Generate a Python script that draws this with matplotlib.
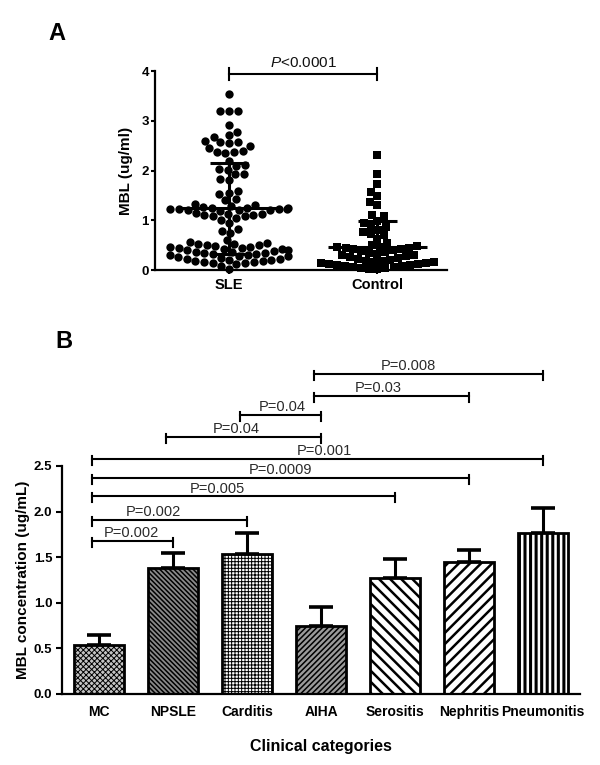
import warnings
warnings.filterwarnings("ignore")
import matplotlib
matplotlib.use("Agg")
import matplotlib.pyplot as plt
import numpy as np
import pandas as pd
import seaborn as sns

plt.rcParams["font.family"] = ["Liberation Sans", "DejaVu Sans"]
plt.rcParams["mathtext.fontset"] = "custom"
plt.rcParams["mathtext.rm"] = "Liberation Sans"
plt.rcParams["mathtext.it"] = "Liberation Sans:italic"

# ---------------- Panel A data ----------------
groups_a = ["SLE", "Control"]
sle_values = [3.53, 3.20, 3.20, 3.20, 2.92, 2.77, 2.72, 2.68, 2.60, 2.58, 2.57, 2.55,
              2.50, 2.45, 2.40, 2.38, 2.37, 2.35, 2.20, 2.12, 2.10, 2.03, 2.02, 1.93,
              1.92, 1.82, 1.80, 1.58, 1.55, 1.53, 1.42, 1.40,
              1.32, 1.30, 1.28, 1.27, 1.25, 1.25, 1.24, 1.23, 1.22, 1.22, 1.22, 1.21,
              1.20, 1.20, 1.18, 1.15, 1.13, 1.12, 1.10, 1.10, 1.08, 1.08, 1.05, 1.00,
              0.95, 0.82, 0.78, 0.75, 0.60, 0.57,
              0.54, 0.53, 0.52, 0.50, 0.50, 0.48, 0.47, 0.46, 0.45, 0.44, 0.42, 0.42,
              0.40, 0.40, 0.38, 0.37, 0.36, 0.35, 0.34, 0.33, 0.32, 0.30, 0.30, 0.29,
              0.28, 0.26, 0.25, 0.23, 0.22, 0.20, 0.20, 0.19, 0.18, 0.17, 0.16, 0.15,
              0.14, 0.12, 0.08, 0.03]
control_values = [2.32, 1.92, 1.72, 1.57, 1.48, 1.36, 1.30, 1.10, 1.08, 0.98, 0.95,
                  0.88, 0.86, 0.80, 0.76, 0.72, 0.70, 0.62, 0.55,
                  0.50, 0.48, 0.47, 0.46, 0.45, 0.44, 0.43, 0.42, 0.40, 0.38,
                  0.36, 0.34, 0.32, 0.30, 0.30, 0.28, 0.26, 0.24, 0.22, 0.20,
                  0.19, 0.18, 0.17, 0.16, 0.15, 0.14, 0.13, 0.12, 0.11, 0.10,
                  0.09, 0.08, 0.07, 0.06, 0.05, 0.04, 0.03, 0.02]
group_means = [1.24, 0.46]
group_sds = [0.92, 0.52]
a_yticks = [0, 1, 2, 3, 4]
a_pvalue = "$P$<0.0001"

# ---------------- Panel B data ----------------
categories = ["MC", "NPSLE", "Carditis", "AIHA", "Serositis", "Nephritis", "Pneumonitis"]
mean_mbl = [0.54, 1.38, 1.53, 0.75, 1.27, 1.45, 1.77]
sem_mbl = [0.11, 0.17, 0.24, 0.20, 0.21, 0.13, 0.27]
comp_left = ["MC", "MC", "MC", "MC", "MC", "NPSLE", "Carditis", "AIHA", "AIHA"]
comp_right = ["NPSLE", "Carditis", "Serositis", "Nephritis", "Pneumonitis",
              "AIHA", "AIHA", "Nephritis", "Pneumonitis"]
comp_labels = ["P=0.002", "P=0.002", "P=0.005", "P=0.0009", "P=0.001",
               "P=0.04", "P=0.04", "P=0.03", "P=0.008"]
b_yticks = [0.0, 0.5, 1.0, 1.5, 2.0, 2.5]

# ---------------- figure ----------------
W, H = 600, 765
fig = plt.figure(figsize=(W / 100, H / 100), dpi=100)
fig.patch.set_facecolor("white")

def fx(px):
    return px / W

def fy(py):
    return 1 - py / H

# ----- Panel A -----
axA = fig.add_axes([fx(155), fy(270), fx(447) - fx(155), fy(71) - fy(270)])
df_a = pd.DataFrame({"group": ["SLE"] * len(sle_values) + ["Control"] * len(control_values),
                     "value": sle_values + control_values})
sns.swarmplot(data=df_a[df_a.group == "SLE"], x="group", y="value", order=groups_a,
              color="black", marker="o", size=6, ax=axA, zorder=3, linewidth=0)
sns.swarmplot(data=df_a[df_a.group == "Control"], x="group", y="value", order=groups_a,
              color="black", marker="s", size=5.6, ax=axA, zorder=3, linewidth=0)
for coll in axA.collections:
    coll.set_clip_on(False)

for i, (m, sd) in enumerate(zip(group_means, group_sds)):
    axA.hlines(m, i - 0.335, i + 0.335, color="black", lw=2.2, zorder=5)
    axA.hlines(m + sd, i - 0.13, i + 0.13, color="black", lw=2.2, zorder=5)
    lo = m - sd
    if lo > 0:
        axA.hlines(lo, i - 0.13, i + 0.13, color="black", lw=2.2, zorder=5)
    axA.vlines(i, max(lo, 0), m + sd, color="black", lw=2.2, zorder=5)

axA.set_xlim(-0.5, 1.47)
axA.set_ylim(0, 4)
axA.set_yticks(a_yticks)
axA.set_yticklabels([str(t) for t in a_yticks], fontsize=9.5, fontweight="bold")
axA.set_xticks(range(len(groups_a)))
axA.set_xticklabels(groups_a, fontsize=10.5, fontweight="bold")
axA.set_xlabel("")
axA.set_ylabel("MBL (ug/ml)", fontsize=11, fontweight="bold")
axA.yaxis.set_label_coords(-0.075, 0.5)
for s in ["top", "right"]:
    axA.spines[s].set_visible(False)
for s in ["left", "bottom"]:
    axA.spines[s].set_linewidth(1.6)
axA.tick_params(axis="y", length=3, width=1.5, pad=1.5)
axA.tick_params(axis="x", length=3, width=1.5, pad=3)
axA.set_facecolor("none")

# significance bracket A
yb = 3.94
axA.plot([0, 1], [yb, yb], color="black", lw=1.5, clip_on=False)
for xe in (0, 1):
    axA.plot([xe, xe], [yb - 0.12, yb + 0.12], color="black", lw=1.5, clip_on=False)
axA.annotate(a_pvalue, (0.5, yb), xytext=(0, 5), textcoords="offset points",
             ha="center", va="baseline", fontsize=11, color="#111111",
             annotation_clip=False)

# ----- Panel B -----
axB = fig.add_axes([fx(62), fy(694), fx(580) - fx(62), fy(466) - fy(694)])
xpos = np.arange(len(categories))
hatches = ["xxxxxx", "\\\\\\\\\\\\\\", "+++++", "//////", "\\\\\\", "///", "|||"]
faces = ["#c4c4c4", "#8a8a8a", "white", "#9a9a9a", "white", "white", "white"]
hatch_lws = [0.7, 1.1, 0.7, 1.1, 1.8, 1.8, 2.2]

for i in range(len(categories)):
    with plt.rc_context({"hatch.linewidth": hatch_lws[i]}):
        b = axB.bar(xpos[i], mean_mbl[i], width=0.68, color=faces[i], edgecolor="black",
                    linewidth=2.0, hatch=hatches[i], zorder=2)
    for p in b:
        if hasattr(p, "set_hatch_linewidth"):
            p.set_hatch_linewidth(hatch_lws[i])

axB.errorbar(xpos, mean_mbl, yerr=[np.zeros(len(categories)), sem_mbl], fmt="none",
             ecolor="black", elinewidth=2.2, capsize=8.5, capthick=2.6, zorder=1)

axB.set_xlim(-0.5, 6.5)
axB.set_ylim(0, 2.5)
axB.set_yticks(b_yticks)
axB.set_yticklabels([f"{t:.1f}" for t in b_yticks], fontsize=9.5, fontweight="bold")
axB.set_xticks(xpos)
axB.set_xticklabels(categories, fontsize=10, fontweight="bold")
axB.set_ylabel("MBL concentration (ug/mL)", fontsize=11, fontweight="bold")
axB.yaxis.set_label_coords(-0.062, 0.5)
for s in ["top", "right"]:
    axB.spines[s].set_visible(False)
for s in ["left", "bottom"]:
    axB.spines[s].set_linewidth(1.6)
axB.tick_params(axis="y", length=4, width=1.5, pad=3)
axB.tick_params(axis="x", length=0, pad=8)
axB.set_facecolor("none")

# comparison brackets
levels = [1.68, 1.91, 2.17, 2.37, 2.58, 2.82, 3.06, 3.27, 3.51]
label_shift = [-0.02, -0.22, -0.35, 0.0, 0.09, -0.10, 0.02, -0.18, -0.28]
for lft, rgt, lab, lev, sh in zip(comp_left, comp_right, comp_labels, levels, label_shift):
    xl = categories.index(lft) - 0.09
    xr = categories.index(rgt)
    axB.plot([xl, xr], [lev, lev], color="black", lw=1.5, clip_on=False)
    for xe in (xl, xr):
        axB.plot([xe, xe], [lev - 0.066, lev + 0.035], color="black", lw=1.5, clip_on=False)
    axB.annotate(lab, ((xl + xr) / 2 + sh, lev), xytext=(0, 2.5), textcoords="offset points",
                 ha="center", va="baseline", fontsize=10.5, color="#2a2a2a",
                 annotation_clip=False)

fig.text(fx(321), fy(747), "Clinical categories", ha="center", va="center",
         fontsize=11.5, fontweight="bold")

fig.text(fx(57), fy(33), "A", ha="center", va="center", fontsize=17, fontweight="bold")
fig.text(fx(64), fy(342), "B", ha="center", va="center", fontsize=17, fontweight="bold")

fig.savefig("out.png", dpi=100, facecolor="white")
